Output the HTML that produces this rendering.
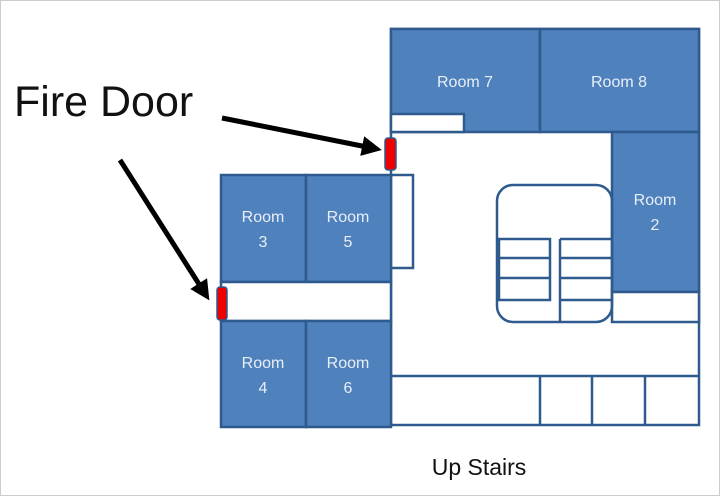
<!DOCTYPE html>
<html><head><style>body{margin:0;background:#fff}</style></head><body>
<svg width="720" height="496" viewBox="0 0 720 496" xmlns="http://www.w3.org/2000/svg" font-family="Liberation Sans, sans-serif">
<defs><marker id="a" markerWidth="4" markerHeight="4" refX="2" refY="2" orient="auto" markerUnits="strokeWidth"><path d="M0,0 L4,2 L0,4 Z" fill="#000"/></marker></defs>
<rect x="0.5" y="0.5" width="719" height="495" fill="none" stroke="#ccc"/>
<g stroke="#2e5a8e" stroke-width="2.5">
<rect x="391" y="29" width="308" height="396" fill="#fff"/>
<rect x="391" y="29" width="149" height="103" fill="#4f81bd"/>
<rect x="540" y="29" width="159" height="103" fill="#4f81bd"/>
<rect x="391" y="114" width="73" height="18" fill="#fff"/>
<rect x="612" y="132" width="87" height="160" fill="#4f81bd"/>
<rect x="612" y="292" width="87" height="30" fill="#fff"/>
<line x1="391" y1="376" x2="699" y2="376"/>
<line x1="540" y1="376" x2="540" y2="425"/>
<line x1="592" y1="376" x2="592" y2="425"/>
<line x1="645" y1="376" x2="645" y2="425"/>
<rect x="497" y="185" width="115" height="137" rx="16" fill="none"/>
<rect x="499" y="239" width="51" height="61" fill="none"/>
<line x1="499" y1="258" x2="550" y2="258"/><line x1="499" y1="278" x2="550" y2="278"/>
<line x1="560" y1="239" x2="560" y2="322"/>
<line x1="560" y1="239" x2="612" y2="239"/><line x1="560" y1="258" x2="612" y2="258"/><line x1="560" y1="278" x2="612" y2="278"/><line x1="560" y1="300" x2="612" y2="300"/>
<rect x="391" y="175" width="22" height="93" fill="#fff"/>
<rect x="221" y="175" width="85" height="107" fill="#4f81bd"/>
<rect x="306" y="175" width="85" height="107" fill="#4f81bd"/>
<rect x="221" y="282" width="170" height="39" fill="#fff"/>
<rect x="221" y="321" width="85" height="106" fill="#4f81bd"/>
<rect x="306" y="321" width="85" height="106" fill="#4f81bd"/>
</g>
<rect x="385" y="138" width="11" height="32" rx="3" fill="#e00" stroke="#2e5a8e" stroke-width="1.5"/>
<rect x="217" y="287" width="10" height="33" rx="3" fill="#e00" stroke="#2e5a8e" stroke-width="1.5"/>
<g fill="#e8eef7" font-size="16" text-anchor="middle">
<text x="465" y="87">Room 7</text><text x="619" y="87">Room 8</text>
<text x="655" y="205">Room</text><text x="655" y="230">2</text>
<text x="263" y="222">Room</text><text x="263" y="247">3</text>
<text x="348" y="222">Room</text><text x="348" y="247">5</text>
<text x="263" y="368">Room</text><text x="263" y="393">4</text>
<text x="348" y="368">Room</text><text x="348" y="393">6</text>
</g>
<text x="14" y="116" font-size="43" fill="#111">Fire Door</text>
<text x="479" y="475" font-size="23" fill="#111" text-anchor="middle">Up Stairs</text>
<g stroke="#000" stroke-width="5">
<line x1="222" y1="118" x2="372" y2="148" marker-end="url(#a)"/>
<line x1="120" y1="160" x2="204" y2="292" marker-end="url(#a)"/>
</g>
</svg>
</body></html>
